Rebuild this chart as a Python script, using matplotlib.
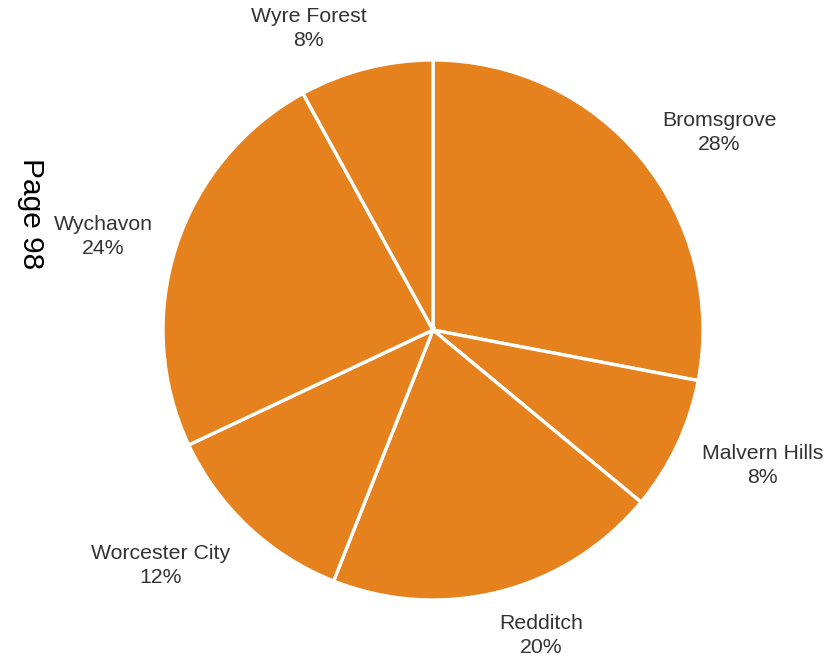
import numpy as np
import matplotlib
matplotlib.use("Agg")
import matplotlib.pyplot as plt

categories = ["Bromsgrove", "Malvern Hills", "Redditch", "Worcester City", "Wychavon", "Wyre Forest"]
values = [28, 8, 20, 12, 24, 8]
side_text = "Page 98"

color = "#E6821E"
text_color = "#333333"
font = ["Liberation Sans", "DejaVu Sans"]

W, H = 827, 656
fig = plt.figure(figsize=(W / 100, H / 100), dpi=100)

# pie centre and radius in pixels
cx, cy, R = 433, 330, 270
Lx, Ly = 1.5, 1.2
ax_w, ax_h = 2 * Lx * R, 2 * Ly * R
ax = fig.add_axes([(cx - ax_w / 2) / W, ((H - cy) - ax_h / 2) / H, ax_w / W, ax_h / H])
ax.axis("off")

wedges, _ = ax.pie(values, startangle=90, counterclock=False, colors=[color] * len(values),
                   radius=1.0, wedgeprops=dict(edgecolor="white", linewidth=2.4))
ax.set_xlim(-Lx, Lx)
ax.set_ylim(-Ly, Ly)
ax.set_aspect("auto")

total = sum(values)
for w, cat, v in zip(wedges, categories, values):
    ang = np.deg2rad((w.theta1 + w.theta2) / 2)
    c, s = np.cos(ang), np.sin(ang)
    x, y = 1.1 * c, 1.1 * s
    ha = "left" if c > 0 else "right"
    dx = 2 if c < 0 and abs(s) < 0.5 else 0
    if abs(c) < 0.3:
        dx = -c * 30
    dy = s * 15 - 3 if s < 0.5 else s * 15 - 1
    if s < -0.6 and c < 0:
        dy -= 5
    ax.annotate(f"{cat}\n{round(100 * v / total)}%", xy=(x, y), xytext=(dx * 0.72, dy * 0.72),
                textcoords="offset points", ha=ha, va="center", multialignment="center",
                linespacing=1.32, fontsize=15.3, color=text_color, family=font,
                annotation_clip=False)

fig.text(31 / W, 1 - 214 / H, side_text, rotation=270, ha="center", va="center",
         fontsize=21.5, color="black", family=font)

fig.savefig("out.png", dpi=100, facecolor="white")
